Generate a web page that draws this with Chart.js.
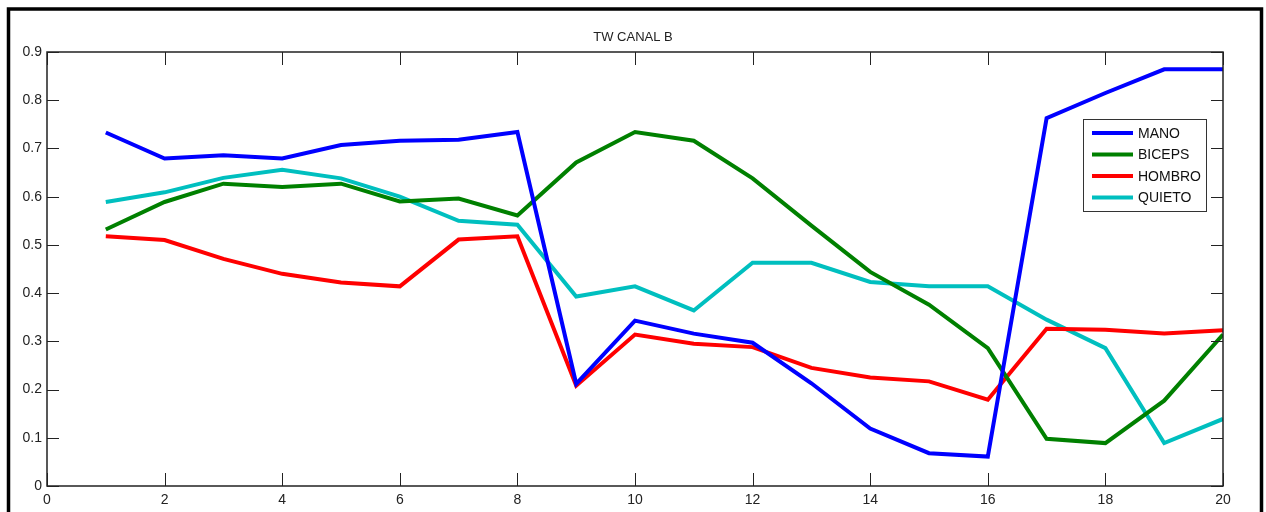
<!DOCTYPE html>
<html>
<head>
<meta charset="utf-8">
<script src="https://cdn.jsdelivr.net/npm/chart.js"></script>
<style>
  body { margin: 0; background: #fff; }
  #chart { display: block; }
</style>
</head>
<body>
<canvas id="chart" width="1266" height="512"></canvas>
<script>
const xs = [1, 2, 3, 4, 5, 6, 7, 8, 9, 10, 11, 12, 13, 14, 15, 16, 17, 18, 19, 20];
const mano   = [0.733, 0.679, 0.686, 0.679, 0.707, 0.716, 0.718, 0.734, 0.212, 0.343, 0.316, 0.297, 0.213, 0.119, 0.068, 0.061, 0.763, 0.815, 0.864, 0.864];
const biceps = [0.532, 0.589, 0.627, 0.620, 0.627, 0.590, 0.596, 0.561, 0.671, 0.734, 0.716, 0.638, 0.540, 0.444, 0.376, 0.286, 0.098, 0.089, 0.177, 0.314];
const hombro = [0.518, 0.510, 0.471, 0.440, 0.422, 0.414, 0.511, 0.518, 0.208, 0.314, 0.295, 0.288, 0.245, 0.225, 0.217, 0.179, 0.326, 0.324, 0.316, 0.323];
const quieto = [0.589, 0.609, 0.639, 0.656, 0.638, 0.600, 0.550, 0.542, 0.393, 0.414, 0.364, 0.463, 0.463, 0.423, 0.414, 0.414, 0.345, 0.286, 0.089, 0.139];

const seriesNames = ["MANO", "BICEPS", "HOMBRO", "QUIETO"];
const seriesColors = ["#0000ff", "#008000", "#ff0000", "#00bfbf"];
const title = "TW CANAL B";

const font = "Liberation Sans, Arial, sans-serif";

function pts(vals) {
  return xs.map((x, i) => ({ x: x, y: vals[i] }));
}

// frame, axes box, inward ticks, title, legend
const matlabLook = {
  id: "matlabLook",
  afterDraw(chart) {
    const ctx = chart.ctx;
    const a = chart.chartArea;
    const sx = chart.scales.x, sy = chart.scales.y;
    ctx.save();

    // outer figure frame
    ctx.strokeStyle = "#000";
    ctx.lineWidth = 3.5;
    ctx.beginPath();
    ctx.moveTo(8.5, 520);
    ctx.lineTo(8.5, 9);
    ctx.lineTo(1261.5, 9);
    ctx.lineTo(1261.5, 520);
    ctx.stroke();

    // axes box
    ctx.lineWidth = 1.5;
    ctx.strokeStyle = "#222";
    ctx.strokeRect(a.left, a.top, a.right - a.left, a.bottom - a.top);

    // inward ticks
    ctx.lineWidth = 1;
    ctx.beginPath();
    sx.ticks.forEach(t => {
      const px = Math.round(sx.getPixelForValue(t.value)) + 0.5;
      ctx.moveTo(px, a.bottom); ctx.lineTo(px, a.bottom - 13);
      ctx.moveTo(px, a.top); ctx.lineTo(px, a.top + 13);
    });
    sy.ticks.forEach(t => {
      const py = Math.round(sy.getPixelForValue(t.value)) + 0.5;
      ctx.moveTo(a.left, py); ctx.lineTo(a.left + 12, py);
      ctx.moveTo(a.right, py); ctx.lineTo(a.right - 12, py);
    });
    ctx.stroke();

    // title
    ctx.fillStyle = "#222";
    ctx.font = "13px " + font;
    ctx.textAlign = "center";
    ctx.textBaseline = "alphabetic";
    ctx.fillText(title, 633, 41);

    // legend
    const bx = 1083.5, by = 119.5, bw = 123, bh = 92;
    ctx.fillStyle = "#fff";
    ctx.fillRect(bx, by, bw, bh);
    ctx.strokeStyle = "#333";
    ctx.lineWidth = 1;
    ctx.strokeRect(bx, by, bw, bh);
    ctx.font = "14px " + font;
    ctx.textAlign = "left";
    ctx.textBaseline = "middle";
    chart.data.datasets.forEach((ds, i) => {
      const y = 133 + i * 21.5;
      ctx.strokeStyle = ds.borderColor;
      ctx.lineWidth = 4;
      ctx.beginPath();
      ctx.moveTo(1092, y); ctx.lineTo(1133, y);
      ctx.stroke();
      ctx.fillStyle = "#111";
      ctx.fillText(ds.label, 1138, y + 1);
    });

    ctx.restore();
  }
};

new Chart(document.getElementById("chart"), {
  type: "line",
  data: {
    datasets: [
      { label: seriesNames[0], data: pts(mano),   borderColor: seriesColors[0] },
      { label: seriesNames[1], data: pts(biceps), borderColor: seriesColors[1] },
      { label: seriesNames[2], data: pts(hombro), borderColor: seriesColors[2] },
      { label: seriesNames[3], data: pts(quieto), borderColor: seriesColors[3] },
    ]
  },
  options: {
    responsive: false,
    animation: false,
    layout: { padding: { left: 0, top: 52, right: 43, bottom: 0 } },
    elements: {
      line: { borderWidth: 4, tension: 0, borderJoinStyle: "miter" },
      point: { radius: 0, hoverRadius: 0 }
    },
    plugins: {
      legend: { display: false },
      tooltip: { enabled: false },
      title: { display: false }
    },
    scales: {
      x: {
        type: "linear",
        min: 0,
        max: 20,
        afterFit(scale) { scale.height = 26; },
        grid: { display: false, drawTicks: false },
        border: { display: false },
        ticks: { stepSize: 2, padding: 6, color: "#222", font: { family: font, size: 14 } }
      },
      y: {
        min: 0,
        max: 0.9,
        afterFit(scale) { scale.width = 47; },
        grid: { display: false, drawTicks: false },
        border: { display: false },
        ticks: {
          stepSize: 0.1,
          padding: 5,
          color: "#222",
          font: { family: font, size: 14 },
          callback: v => Number(v.toFixed(1)).toString()
        }
      }
    }
  },
  plugins: [matlabLook]
});
</script>
</body>
</html>
